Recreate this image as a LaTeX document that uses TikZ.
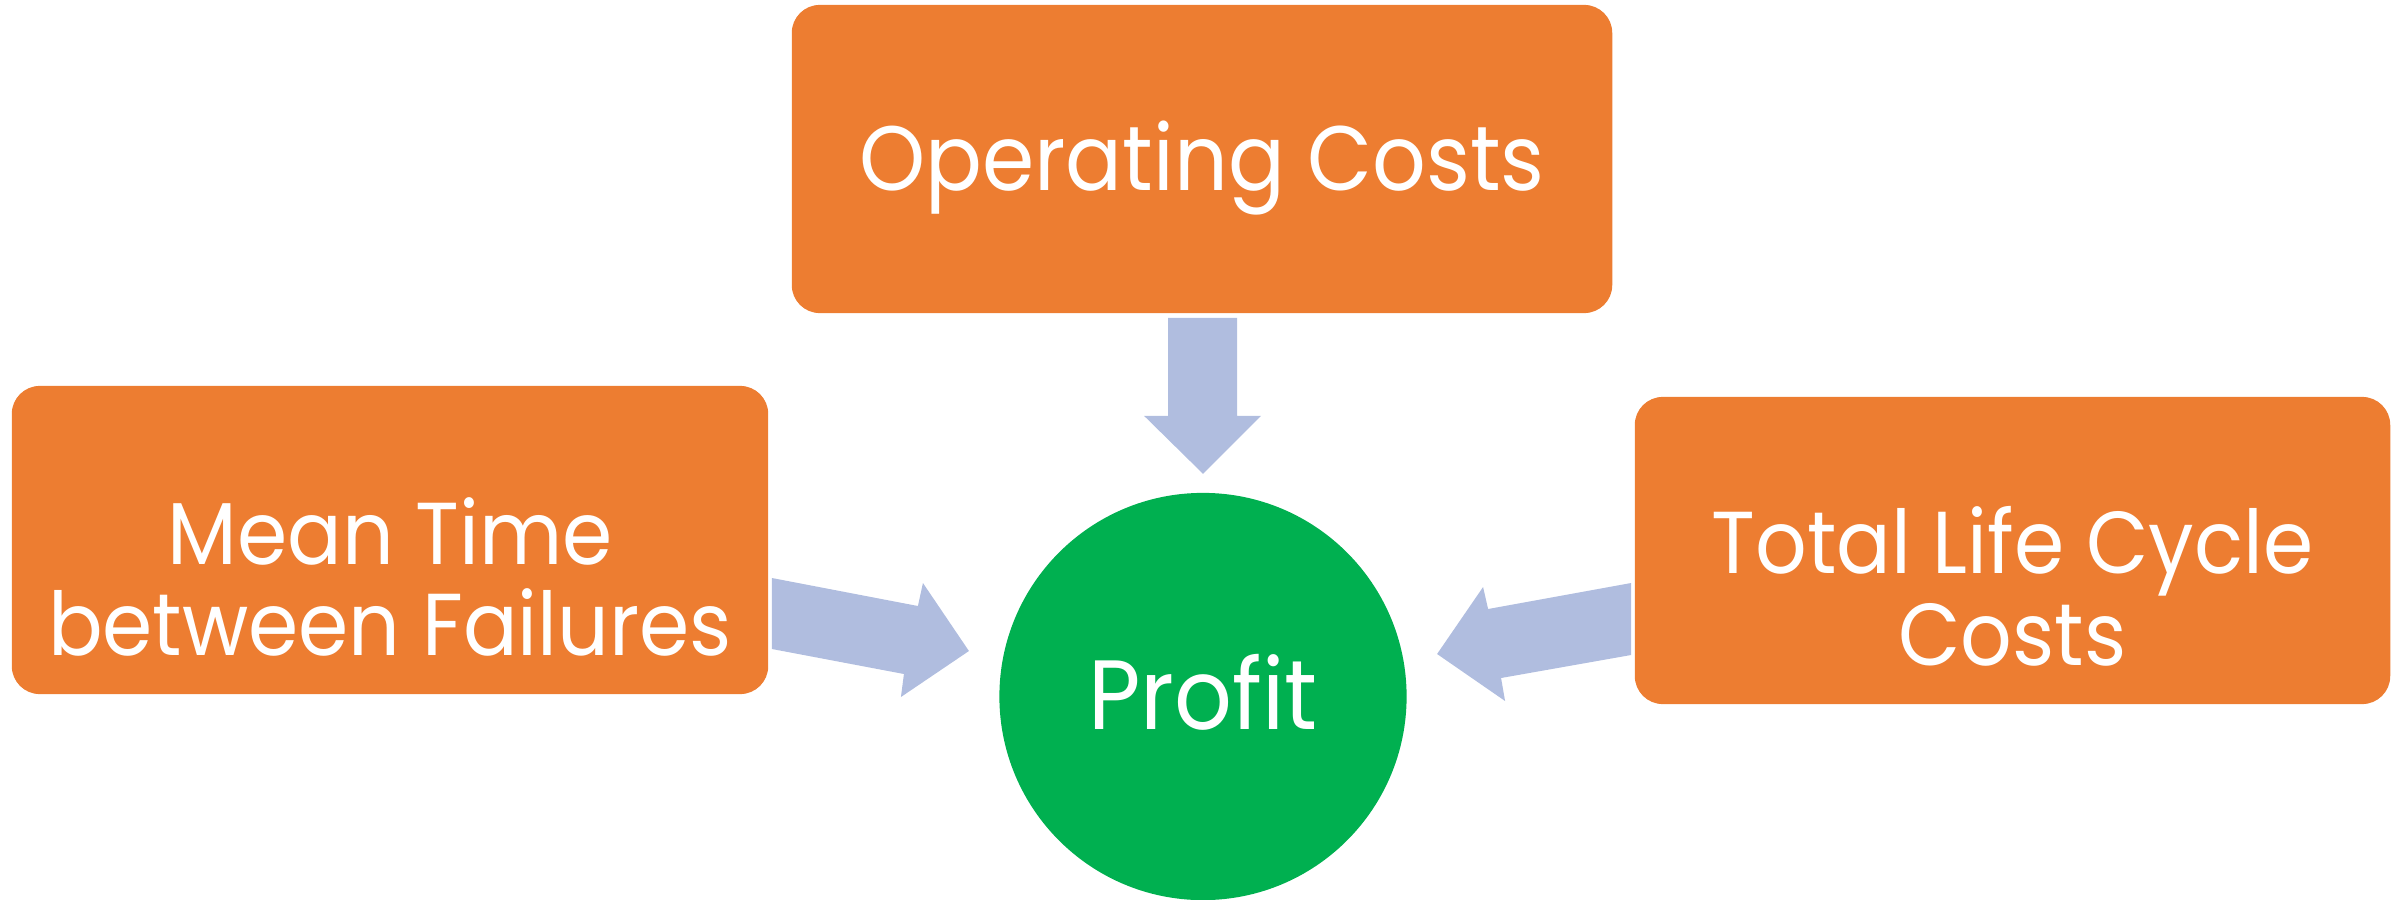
\documentclass[tikz,border=0pt]{standalone}
\usepackage{fontspec}
\setmainfont{Poppins}[FakeStretch=0.92]
\definecolor{boxorange}{HTML}{ED7D31}
\definecolor{profitgreen}{HTML}{00B050}
\definecolor{arrowblue}{HTML}{B0BDDF}
\begin{document}
\begin{tikzpicture}[x=0.01cm,y=-0.01cm,
  factor/.style={fill=boxorange, rounded corners=0.28cm, inner sep=0pt},
  factortext/.style={anchor=base, inner sep=0pt, text=white,
    font=\fontsize{26}{28}\selectfont},
  sidetext/.style={factortext, font=\fontsize{25}{27}\selectfont},
  result/.style={circle, fill=profitgreen, inner sep=0pt, minimum size=4.07cm},
  resulttext/.style={anchor=base, inner sep=0pt, text=white,
    font=\fontsize{28}{30}\selectfont},
  blockarrow/.style={fill=arrowblue}]
\useasboundingbox (0,0) rectangle (2403,900);

% the three cost factors
\node[factor, minimum width=8.2cm, minimum height=3.08cm] (op) at (1202,159) {};
\node[factor, minimum width=7.56cm, minimum height=3.08cm] (mtbf) at (390,540) {};
\node[factor, minimum width=7.55cm, minimum height=3.07cm] (tlcc) at (2012.5,550.5) {};

% their labels, placed on the baselines
\node[factortext] (op-a) at ([yshift=-0.31cm]op.center) {Operating Costs};
\node[sidetext] (mtbf-a) at ([yshift=-0.24cm]mtbf.center) {Mean Time};
\node[sidetext] (mtbf-b) at ([yshift=-1.15cm]mtbf.center) {between Failures};
\node[sidetext] (tlcc-a) at ([yshift=-0.23cm]tlcc.center) {Total Life Cycle};
\node[sidetext] (tlcc-b) at ([yshift=-1.15cm]tlcc.center) {Costs};

% the result
\node[result] (profit) at (1203,696.5) {};
\node[resulttext] (profit-a) at ([yshift=-0.33cm]profit.center) {Profit};

% block arrows pointing at the result
\fill[blockarrow, shift={(op.south)}]
  (-34,4) -- (35,4) -- (35,102) -- (59,102) -- (1,160) -- (-58,102) -- (-34,102) -- cycle;
\fill[blockarrow, shift={(mtbf.east)}]
  (3,38) -- (149,66) -- (154,43) -- (200,111) -- (132,157) -- (135,134) -- (3,109) -- cycle;
\fill[blockarrow, shift={(tlcc.west)}]
  (-3,32.5) -- (-146,58.5) -- (-151,36.5) -- (-197,103.5) -- (-129,150.5) -- (-133,127.5) -- (-3,104.5) -- cycle;
\end{tikzpicture}
\end{document}
